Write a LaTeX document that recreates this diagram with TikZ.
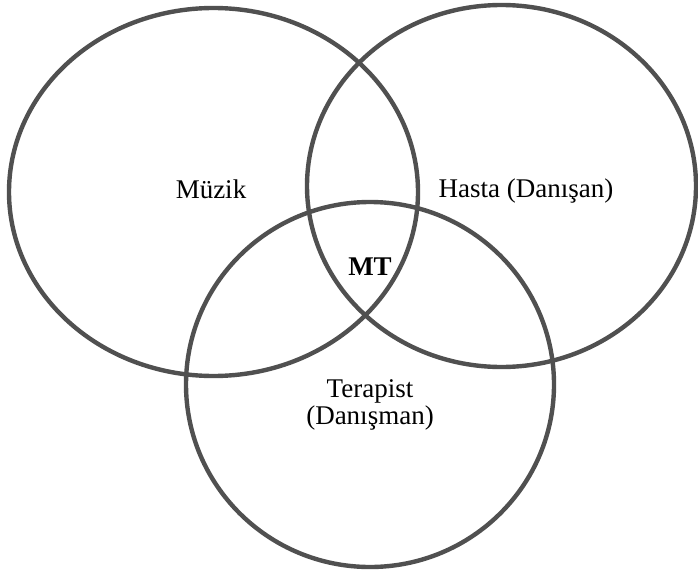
\documentclass[tikz,border=0pt]{standalone}
\usepackage{fontspec}
\setmainfont{Liberation Serif}
\usetikzlibrary{shapes.geometric}
\definecolor{ringgray}{RGB}{80,80,80}

\begin{document}
\begin{tikzpicture}[x=1pt, y=-1pt,
    ring/.style={draw=ringgray, line width=4.4pt, ellipse, inner sep=0pt},
    lbl/.style={font=\fontsize{27}{27}\selectfont, align=center, inner sep=0pt},
    core/.style={font=\fontsize{27}{27}\selectfont\bfseries, inner sep=0pt}
]
\useasboundingbox (0,0) rectangle (698,575);

% --- three sets ---
\node[ring, minimum width=409pt, minimum height=368pt] (muzik) at (213.5,192) {};
\node[ring, minimum width=389pt, minimum height=362pt] (hasta) at (501.5,186) {};
\node[ring, minimum width=368pt, minimum height=365pt] (terapist) at (370,384.5) {};

% --- labels ---
\node[lbl, anchor=base] (lmuzik) at (211,198) {Müzik};
\node[lbl, anchor=base] (lhasta) at (526,197) {Hasta (Danışan)};
\node[lbl] (lterapist) at (370,405) {Terapist\\(Danışman)};

% center overlap
\node[core, anchor=base] (mt) at (370,275) {MT};

\end{tikzpicture}
\end{document}
